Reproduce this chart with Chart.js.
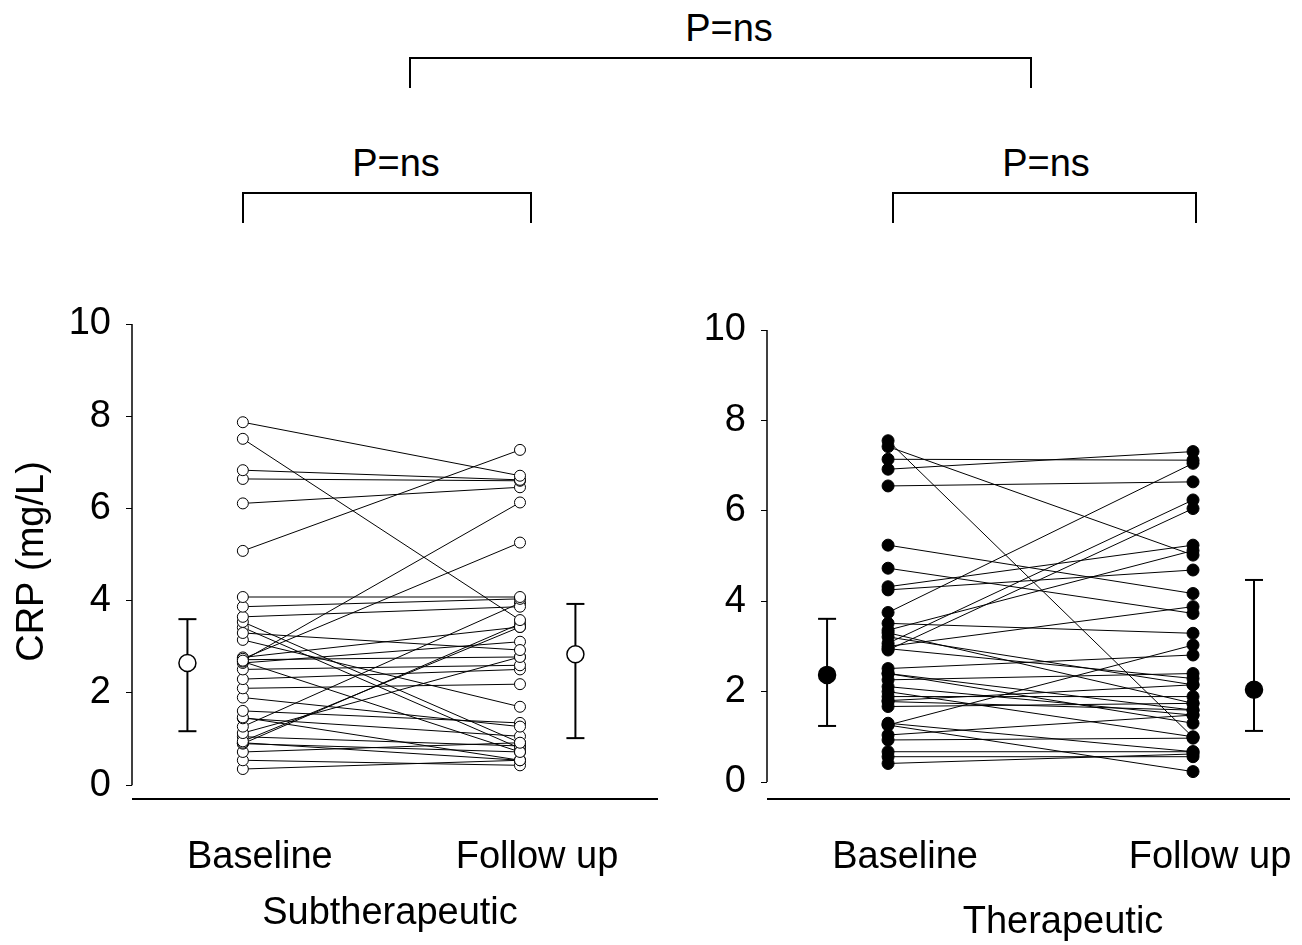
<!DOCTYPE html>
<html>
<head>
<meta charset="utf-8">
<script src="https://cdn.jsdelivr.net/npm/chart.js@4.4.0/dist/chart.umd.min.js"></script>
<style>
body { margin: 0; background: #fff; width: 1302px; height: 945px; position: relative; overflow: hidden;
       font-family: "Liberation Sans", Arial, sans-serif; }
canvas { position: absolute; top: 0; }
.ptxt { position: absolute; font-size: 38px; line-height: 38px; transform: translateX(-50%); white-space: nowrap; color: #000; }
.brk { position: absolute; border: 2px solid #000; border-bottom: none; box-sizing: border-box; }
</style>
</head>
<body>
<div class="ptxt" style="left:729px; top:9px">P=ns</div>
<div class="brk" style="left:409px; top:57px; width:623px; height:31px"></div>
<div class="ptxt" style="left:396px; top:144px">P=ns</div>
<div class="brk" style="left:242px; top:192px; width:290px; height:31px"></div>
<div class="ptxt" style="left:1046px; top:144px">P=ns</div>
<div class="brk" style="left:892px; top:192px; width:305px; height:31px"></div>

<canvas id="sub" width="680" height="945" style="left:0"></canvas>
<canvas id="ther" width="622" height="945" style="left:680px"></canvas>

<div class="ptxt" style="left:390px; top:892px">Subtherapeutic</div>
<div class="ptxt" style="left:1063px; top:901px">Therapeutic</div>

<script>
const yTicks = [0, 2, 4, 6, 8, 10];
const xLabels = ['Baseline', 'Follow up'];

// Subtherapeutic: paired CRP values (mg/L)
const subBaseline = [7.87, 7.51, 6.83, 6.64, 6.11, 5.08, 4.08, 2.70, 2.74, 3.87, 3.65, 3.54, 3.30, 3.15, 2.77, 2.72, 2.68, 2.65,
                     2.51, 2.30, 2.10, 1.90, 1.61, 1.47, 1.45, 1.27, 1.13, 0.95, 0.92, 0.90, 0.72, 0.54, 0.35, 1.05, 3.42, 0.90];
const subFollowUp = [6.71, 3.58, 6.62, 6.60, 6.46, 7.27, 4.08, 6.13, 5.26, 4.04, 3.87, 0.92, 2.93, 1.70, 3.43, 2.78, 0.72, 3.11,
                     2.60, 2.51, 2.19, 1.27, 1.35, 0.54, 1.06, 3.95, 2.78, 3.43, 0.54, 0.72, 0.92, 0.43, 0.54, 0.85, 0.80, 3.50];
const subMean = [2.65, 2.84];
const subLow = [1.17, 1.02];
const subHigh = [3.60, 3.93];

// Therapeutic: paired CRP values (mg/L)
const therBaseline = [7.55, 7.42, 7.14, 6.92, 6.55, 5.24, 4.73, 4.32, 4.25, 3.75, 3.07, 2.92, 3.51, 3.36, 3.21, 2.95, 3.00, 2.51,
                      2.40, 2.26, 2.11, 1.89, 1.78, 1.67, 1.26, 1.30, 1.04, 0.93, 1.26, 0.67, 0.56, 0.41, 2.40, 3.30, 2.00, 1.80];
const therFollowUp = [0.99, 5.02, 7.12, 7.31, 6.64, 4.17, 3.73, 5.24, 4.69, 7.05, 6.24, 6.05, 3.29, 5.12, 2.15, 2.29, 3.88, 2.81,
                      1.30, 2.40, 1.48, 1.89, 1.59, 1.74, 3.03, 0.67, 1.48, 0.97, 0.23, 0.67, 0.56, 0.62, 1.59, 1.74, 1.00, 2.15];
const therMean = [2.37, 2.04];
const therLow = [1.24, 1.13];
const therHigh = [3.61, 4.47];

Chart.defaults.font.family = '"Liberation Sans", Arial, sans-serif';
Chart.defaults.color = '#000';

const axisLines = {
  id: 'axisLines',
  afterDraw(chart) {
    const {ctx, chartArea, scales} = chart;
    ctx.save();
    ctx.strokeStyle = '#000';
    ctx.lineWidth = 1.5;
    ctx.beginPath();
    ctx.moveTo(chartArea.left, scales.y.getPixelForValue(0));
    ctx.lineTo(chartArea.left, scales.y.getPixelForValue(10));
    ctx.stroke();
    ctx.lineWidth = 2;
    ctx.beginPath();
    ctx.moveTo(chartArea.left, chartArea.bottom);
    ctx.lineTo(chartArea.right, chartArea.bottom);
    ctx.stroke();
    ctx.restore();
  }
};

function makePanel(id, base, follow, mean, low, high, filled, o) {
  const fill = filled ? '#000' : '#fff';
  const datasets = [];
  for (let i = 0; i < base.length; i++) {
    datasets.push({
      data: [{x: 1, y: base[i]}, {x: 2, y: follow[i]}],
      borderColor: '#000', borderWidth: 1,
      pointRadius: o.r, pointBorderWidth: 1,
      pointBackgroundColor: fill, pointBorderColor: '#000',
      order: 2
    });
  }
  const meanX = [0.8, 2.2];
  for (let k = 0; k < 2; k++) {
    // error bar with caps
    datasets.push({
      data: [{x: meanX[k], y: low[k]}, {x: meanX[k], y: high[k]}],
      borderColor: '#000', borderWidth: 2,
      pointStyle: 'line', pointRadius: 9, pointBorderWidth: 2, pointBorderColor: '#000',
      order: 1
    });
    // mean marker
    datasets.push({
      data: [{x: meanX[k], y: mean[k]}],
      showLine: false,
      pointRadius: 8.5, pointBorderWidth: 1.5,
      pointBackgroundColor: fill, pointBorderColor: '#000',
      order: 0
    });
  }

  return new Chart(document.getElementById(id), {
    type: 'line',
    data: {datasets: datasets},
    plugins: [axisLines],
    options: {
      responsive: false,
      devicePixelRatio: 1,
      animation: false,
      layout: {padding: {top: o.top, right: o.right, left: 0, bottom: 0}},
      plugins: {legend: {display: false}, tooltip: {enabled: false}},
      elements: {line: {tension: 0}},
      scales: {
        x: {
          type: 'linear', min: o.xmin, max: o.xmax,
          afterBuildTicks: s => { s.ticks = [{value: 1}, {value: 2}]; },
          afterFit: s => { s.height = 146; s.paddingLeft = 0; s.paddingRight = 0; },
          border: {display: false},
          grid: {display: false, drawTicks: false},
          ticks: {
            callback: v => xLabels[v - 1],
            font: {size: 38}, padding: 36, labelOffset: 17,
            maxRotation: 0, autoSkip: false
          }
        },
        y: {
          min: o.ymin, max: 10,
          afterBuildTicks: s => { s.ticks = yTicks.map(v => ({value: v})); },
          afterFit: s => { s.width = o.yWidth; },
          border: {display: false},
          grid: {drawOnChartArea: false, drawTicks: true, tickLength: 6, color: '#000', lineWidth: 1},
          ticks: {font: {size: 38}, padding: 15, callback: v => String(v)},
          title: {display: !!o.yTitle, text: o.yTitle || '', font: {size: 38}, padding: {top: 10, bottom: 0}}
        }
      }
    }
  });
}

makePanel('sub', subBaseline, subFollowUp, subMean, subLow, subHigh, false, {
  top: 324, right: 22, yWidth: 132, ymin: -0.30, xmin: 0.6, xmax: 2.498, r: 5.5,
  yTitle: 'CRP (mg/L)'
});

makePanel('ther', therBaseline, therFollowUp, therMean, therLow, therHigh, true, {
  top: 330, right: 12, yWidth: 87, ymin: -0.376, xmin: 0.603, xmax: 2.318, r: 6
});
</script>
</body>
</html>
